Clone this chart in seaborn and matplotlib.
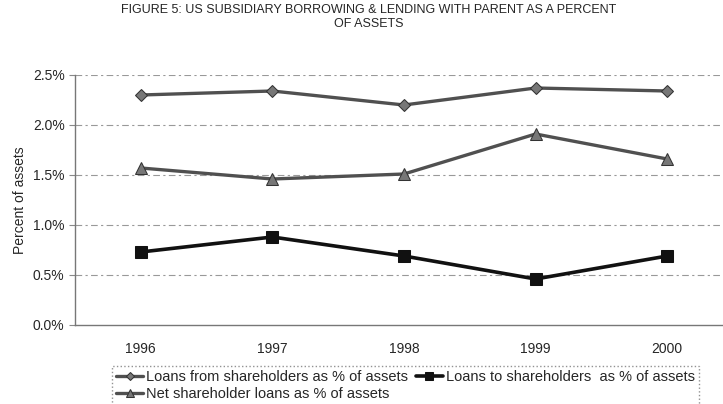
import matplotlib
matplotlib.use("Agg")
import matplotlib.pyplot as plt
import seaborn as sns
import pandas as pd

years = ["1996", "1997", "1998", "1999", "2000"]
loans_from = [2.30, 2.34, 2.20, 2.37, 2.34]
loans_to = [0.73, 0.88, 0.69, 0.46, 0.69]
net_loans = [1.57, 1.46, 1.51, 1.91, 1.66]
yticks = [0.0, 0.5, 1.0, 1.5, 2.0, 2.5]
ytick_labels = ["0.0%", "0.5%", "1.0%", "1.5%", "2.0%", "2.5%"]

label_from = "Loans from shareholders as % of assets"
label_to = "Loans to shareholders  as % of assets"
label_net = "Net shareholder loans as % of assets"

sns.set_style("white")
plt.rcParams['font.family'] = ['Liberation Sans', 'DejaVu Sans']

fig = plt.figure(figsize=(7.23, 4.04), dpi=100)
ax = fig.add_axes([75/723, 79/404, 658/723, 250/404])

df_from = pd.DataFrame({"year": years, "value": loans_from})
df_to = pd.DataFrame({"year": years, "value": loans_to})
df_net = pd.DataFrame({"year": years, "value": net_loans})

sns.lineplot(data=df_from, x="year", y="value", ax=ax, color="#505050", lw=2.4,
             marker="D", markersize=6, markerfacecolor="#777777", markeredgecolor="#333333",
             label=label_from)
sns.lineplot(data=df_to, x="year", y="value", ax=ax, color="#111111", lw=2.6,
             marker="s", markersize=9, markerfacecolor="#111111", markeredgecolor="#111111",
             label=label_to)
sns.lineplot(data=df_net, x="year", y="value", ax=ax, color="#505050", lw=2.4,
             marker="^", markersize=8, markerfacecolor="#777777", markeredgecolor="#333333",
             label=label_net)

ax.set_xlim(-0.5, 4.5)
ax.set_ylim(0, 2.5)
ax.set_yticks(yticks)
ax.set_yticklabels(ytick_labels, fontsize=10)
ax.set_xticks(range(len(years)))
ax.set_xticklabels(years, fontsize=10)
ax.set_xticks([i + 0.5 for i in range(-1, len(years))], minor=True)
ax.tick_params(axis="x", which="major", length=0, pad=12)
ax.tick_params(axis="x", which="minor", length=4, color="#888888", direction="out")
ax.tick_params(axis="y", length=4, color="#888888", direction="out", left=True)
ax.set_xlabel("")
ax.set_ylabel("Percent of assets", fontsize=10)

for y in yticks[1:]:
    ax.axhline(y, color="#999999", lw=0.8, ls=(0, (6, 3, 2, 3)), zorder=0)

for s in ["top", "right"]:
    ax.spines[s].set_visible(False)
for s in ["left", "bottom"]:
    ax.spines[s].set_color("#777777")
    ax.spines[s].set_linewidth(1.0)

handles, labels = ax.get_legend_handles_labels()
ax.get_legend().remove()
order = [0, 2, 1]
leg = fig.legend([handles[i] for i in order], [labels[i] for i in order],
                 loc="upper left", bbox_to_anchor=(112/723, 1 - 366/404),
                 ncol=2, fontsize=10.5, frameon=True, fancybox=False,
                 borderpad=0.25, handlelength=1.9, handletextpad=0.2,
                 columnspacing=0.5, labelspacing=0.25, borderaxespad=0,
                 markerscale=0.7)
leg.get_frame().set_edgecolor("#777777")
leg.get_frame().set_linestyle(":")
leg.get_frame().set_linewidth(1.0)

fig.text(0.51, 1 - 17/404, "FIGURE 5: US SUBSIDIARY BORROWING & LENDING WITH PARENT AS A PERCENT\nOF ASSETS",
         ha="center", va="center", fontsize=9, linespacing=1.3)

fig.savefig("out.png", dpi=100)
